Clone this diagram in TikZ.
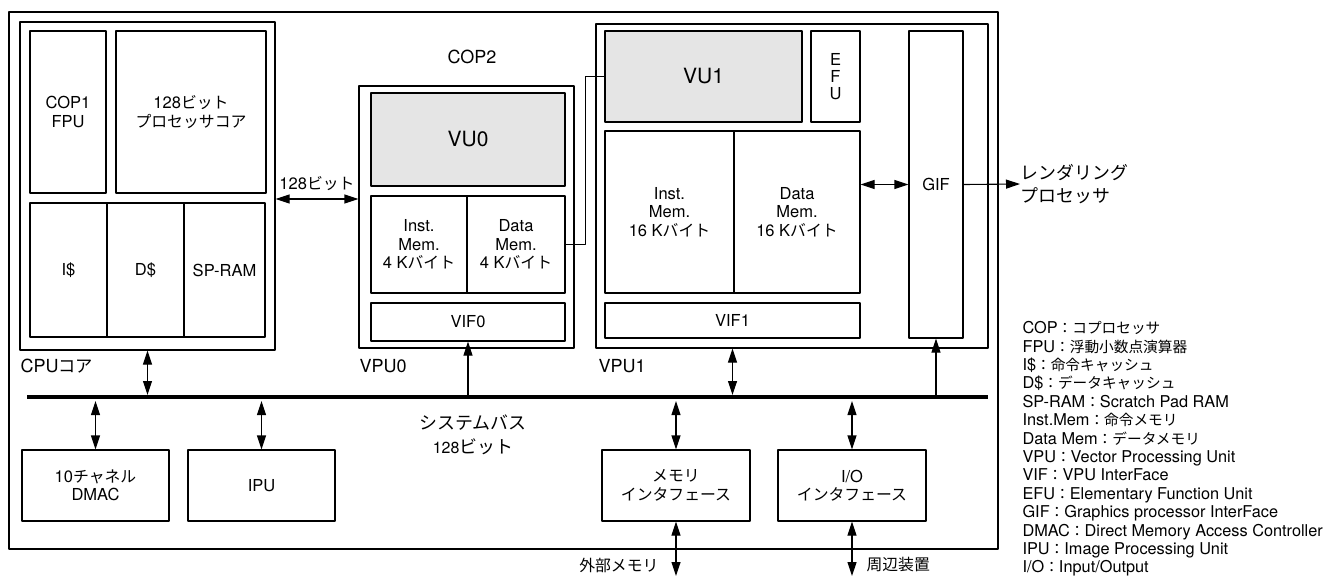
\documentclass[tikz,border=0pt]{standalone}
\usepackage{fontspec}
\setmainfont{TeX Gyre Heros}
\newfontfamily\jafont[Scale=0.96]{Noto Sans CJK JP}
\newfontfamily\jafontl[Scale=0.9]{Noto Sans CJK JP}
\newfontfamily\jafontb[Scale=1.12]{Noto Sans CJK JP}
\newcommand\ja[1]{{\jafont #1}}
\newcommand\jl[1]{{\jafontl #1}}
\newcommand\jb[1]{{\jafontb #1}}
\usetikzlibrary{arrows.meta,calc}

\begin{document}
\begin{tikzpicture}[x=1pt,y=-1pt,line join=round,>={Triangle[length=14pt,width=9pt]},line width=1.1pt]
	\tikzset{blk/.style={draw,inner sep=1pt,align=center,font=\fontsize{16.5}{18.5}\selectfont},
		sz/.style 2 args={minimum width=#1pt,minimum height=#2pt},
		vu/.style={blk,fill=black!10,font=\fontsize{21}{24}\selectfont},
		lbl/.style={inner sep=0pt,align=center,font=\fontsize{16.5}{18.5}\selectfont},
		unit/.style={inner sep=0pt,font=\fontsize{18}{22}\selectfont},
		big/.style={inner sep=0pt,font=\fontsize{16}{23.5}\selectfont},
		dbl/.style={<->},
		bus/.style={line width=4.3pt}}
	\useasboundingbox (0,0) rectangle (1324,576);
	\node[blk,sz={989}{537}] (chip) at (503.5,280.5) {};
	\node[blk,sz={255}{328}] (cpu) at (147.5,186) {};
	\node[blk,sz={76}{162}] (fpu) at (68,112) {COP1\\FPU};
	\node[blk,sz={150}{162}] (core) at (191,112) {128\ja{ビット}\\\ja{プロセッサコア}};
	\node[blk,sz={77}{134}] (icache) at (68.5,270) {I\$};
	\node[blk,sz={77}{134}] (dcache) at (145.5,270) {D\$};
	\node[blk,sz={81}{134}] (spram) at (224.5,270) {SP-RAM};
	\node[unit,anchor=west] (cpulbl) at (20,366) {CPU\ja{コア}};
	\node[blk,sz={215}{262}] (vpu0) at (466.5,217) {};
	\node[vu,sz={194}{93}] (vu0) at (468,139.5) {VU0};
	\node[blk,sz={96}{97}] (imem0) at (419,244.5) {Inst.\\Mem.\\4 K\ja{バイト}};
	\node[blk,sz={98}{97}] (dmem0) at (516,244.5) {Data\\Mem.\\4 K\ja{バイト}};
	\node[blk,sz={194}{38}] (vif0) at (468,322) {VIF0};
	\node[unit,anchor=west] (vpu0lbl) at (359,366) {VPU0};
	\node[unit] (cop2) at (472,57) {COP2};
	\node[blk,sz={392}{324}] (vpu1) at (792,186) {};
	\node[vu,sz={197}{91}] (vu1) at (703.5,76.5) {VU1};
	\node[blk,sz={49}{91},font=\fontsize{16.5}{17}\selectfont] (efu) at (835.5,76.5) {E\\F\\U};
	\node[blk,sz={129}{162}] (imem1) at (669.5,212) {Inst.\\Mem.\\16 K\ja{バイト}};
	\node[blk,sz={126}{162}] (dmem1) at (797,212) {Data\\Mem.\\16 K\ja{バイト}};
	\node[blk,sz={255}{35}] (vif1) at (732.5,320.5) {VIF1};
	\node[blk,sz={54}{307}] (gif) at (936,184.5) {GIF};
	\node[unit,anchor=west] (vpu1lbl) at (598,366) {VPU1};
	\node[big,anchor=west,align=left] (render) at (1020,184) {\jb{レンダリング}\\\jb{プロセッサ}};
	\coordinate (busL) at (27,397);
	\coordinate (busR) at (988,397);
	\draw[bus] (busL) -- (busR);
	\node[big,align=center] (buslbl) at (473,435) {\jb{システムバス}\\128\jb{ビット}};
	\node[blk,sz={147}{71}] (dmac) at (95.5,485.5) {10\ja{チャネル}\\DMAC};
	\node[blk,sz={147}{71}] (ipu) at (261.5,485.5) {IPU};
	\node[blk,sz={148}{71}] (memif) at (676,485.5) {\ja{メモリ}\\\ja{インタフェース}};
	\node[blk,sz={148}{71}] (ioif) at (852,485.5) {I/O\\\ja{インタフェース}};
	\coordinate (extmem) at (676,576);
	\coordinate (periph) at (852,576);
	\node[lbl,anchor=east] (extlbl) at (659,565) {\ja{外部メモリ}};
	\node[lbl,anchor=west] (perlbl) at (866,565) {\ja{周辺装置}};
	\draw[dbl] (cpu.east |- 0,199) -- (vpu0.west |- 0,199) node[lbl,midway,above=8pt] (bits) {128\ja{ビット}};
	\draw (dmem0.east) -- ++(20,0) |- (vu1.west);
	\draw[dbl] (dmem1.east |- gif.west) -- (gif.west);
	\draw[->] (gif.east) -- (render.west);
	\draw[dbl,shorten >=2pt] (cpu.south) -- (cpu.south |- busL);
	\draw[->,shorten <=2pt] (vif0.south |- busL) -- (vif0.south);
	\draw[dbl,shorten >=2pt] (vif1.south |- vpu1.south) -- (vif1.south |- busL);
	\draw[->,shorten <=2pt] (gif.south |- busL) -- (gif.south);
	\draw[dbl,shorten <=4pt] (dmac.north |- busL) -- (dmac.north);
	\draw[dbl,shorten <=4pt] (ipu.north |- busL) -- (ipu.north);
	\draw[dbl,shorten <=4pt] (memif.north |- busL) -- (memif.north);
	\draw[dbl,shorten <=4pt] (ioif.north |- busL) -- (ioif.north);
	\draw[dbl] (memif.south) -- (extmem);
	\draw[dbl] (ioif.south) -- (periph);
	\node[anchor=north west,inner sep=0pt,align=left,font=\fontsize{16.3}{18.4}\selectfont] (legend) at (1022,321) {COP\jl{：コプロセッサ}\\
		FPU\jl{：浮動小数点演算器}\\
		I\$\jl{：命令キャッシュ}\\
		D\$\jl{：データキャッシュ}\\
		SP-RAM\jl{：}Scratch Pad RAM\\
		Inst.Mem\jl{：命令メモリ}\\
		Data Mem\jl{：データメモリ}\\
		VPU\jl{：}Vector Processing Unit\\
		VIF\jl{：}VPU InterFace\\
		EFU\jl{：}Elementary Function Unit\\
		GIF\jl{：}Graphics processor InterFace\\
		DMAC\jl{：}Direct Memory Access Controller\\
		IPU\jl{：}Image Processing Unit\\
		I/O\jl{：}Input/Output};
\end{tikzpicture}
\end{document}
